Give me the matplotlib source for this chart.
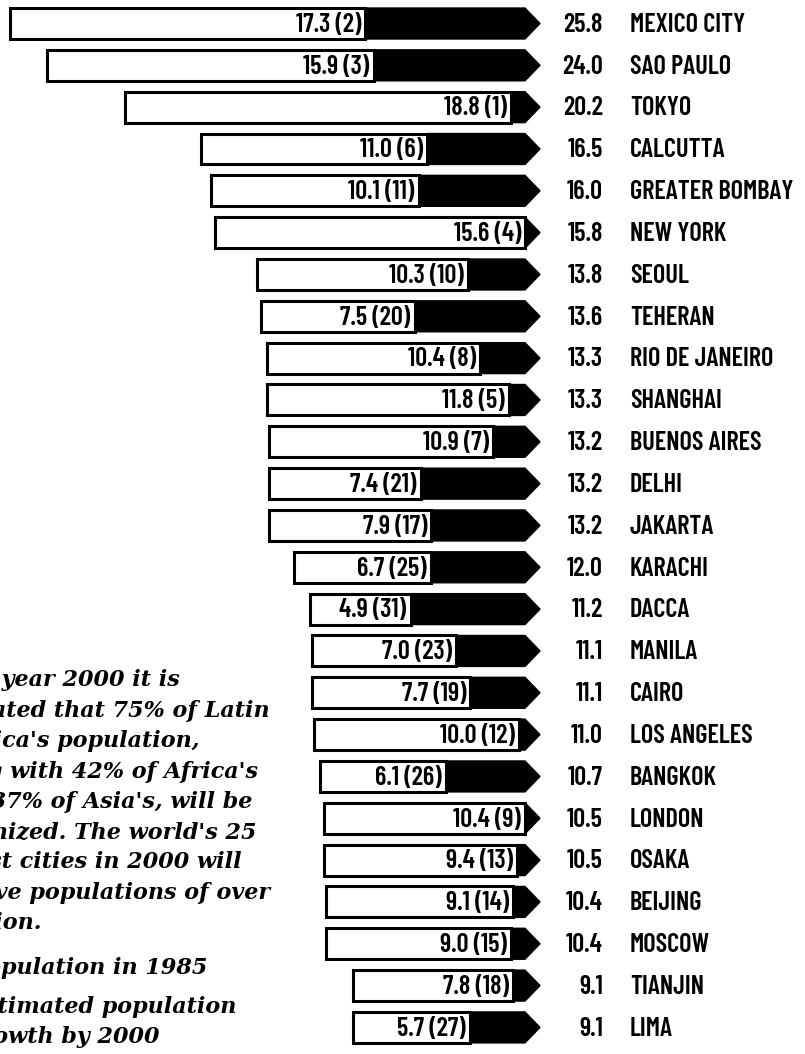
import matplotlib
matplotlib.use("Agg")
import matplotlib.pyplot as plt
import matplotlib.font_manager as fm
from matplotlib.patches import Rectangle, Polygon

cities = ["MEXICO CITY", "SAO PAULO", "TOKYO", "CALCUTTA", "GREATER BOMBAY",
          "NEW YORK", "SEOUL", "TEHERAN", "RIO DE JANEIRO", "SHANGHAI",
          "BUENOS AIRES", "DELHI", "JAKARTA", "KARACHI", "DACCA", "MANILA",
          "CAIRO", "LOS ANGELES", "BANGKOK", "LONDON", "OSAKA", "BEIJING",
          "MOSCOW", "TIANJIN", "LIMA"]
pop_2000 = [25.8, 24.0, 20.2, 16.5, 16.0, 15.8, 13.8, 13.6, 13.3, 13.3, 13.2,
            13.2, 13.2, 12.0, 11.2, 11.1, 11.1, 11.0, 10.7, 10.5, 10.5, 10.4,
            10.4, 9.1, 9.1]
pop_1985 = [17.3, 15.9, 18.8, 11.0, 10.1, 15.6, 10.3, 7.5, 10.4, 11.8, 10.9,
            7.4, 7.9, 6.7, 4.9, 7.0, 7.7, 10.0, 6.1, 10.4, 9.4, 9.1, 9.0,
            7.8, 5.7]
rank_1985 = [2, 3, 1, 6, 11, 4, 10, 20, 8, 5, 7, 21, 17, 25, 31, 23, 19, 12,
             26, 9, 13, 14, 15, 18, 27]

# italic note on the left (cut off by the page edge)
note_lines = ["By the year 2000 it is", "estimated that 75% of Latin",
              "America's population,", "along with 42% of Africa's",
              "and 37% of Asia's, will be", "urbanized. The world's 25",
              "largest cities in 2000 will", "all have populations of over",
              "9 million."]
legend_lines = ["Population in 1985", "Estimated population", "growth by 2000"]

# pick a condensed sans face if one is around
def find_font(name, weights):
    for w in weights:
        for f in fm.fontManager.ttflist:
            if f.name == name and f.style == "normal" and str(f.weight) == w:
                return f.fname
    return None

cond_file = None
for name, weights in [("Barlow Condensed", ["600", "semibold", "500", "medium", "400", "normal"]),
                      ("Archivo Narrow", ["500", "400", "normal"]),
                      ("Asap Condensed", ["500", "400", "normal"]),
                      ("Liberation Sans Narrow", ["400", "normal"])]:
    cond_file = find_font(name, weights)
    if cond_file:
        break

def cfp(size):
    if cond_file:
        return fm.FontProperties(fname=cond_file, size=size)
    return fm.FontProperties(family="DejaVu Sans", size=size * 0.7)

W, H = 805, 1054
fig = plt.figure(figsize=(W / 100, H / 100), dpi=100)
ax = fig.add_axes([0, 0, 1, 1])

px_per_unit = 20.54
zero_px = 540
row_px = 41.83
first_row_px = 23.5
ax.set_xlim(-zero_px / px_per_unit, (W - zero_px) / px_per_unit)
ax.set_ylim(24 + (H - first_row_px - 24 * row_px) / row_px, -first_row_px / row_px)
ax.axis("off")

h = 0.74
tip = 15 / px_per_unit
fs = 19

for i in range(len(cities)):
    left = -pop_2000[i]
    wend = min(left + pop_1985[i], -tip)
    # black growth part with arrow head
    poly = Polygon([(wend, i - h / 2), (-tip, i - h / 2), (0, i), (-tip, i + h / 2),
                    (wend, i + h / 2)], closed=True, facecolor="black",
                   edgecolor="black", lw=1)
    ax.add_patch(poly)
    ax.add_patch(Rectangle((left, i - h / 2), wend - left, h, facecolor="white",
                           edgecolor="black", lw=2.2, zorder=3))
    ax.text(wend - 0.2, i + 0.03, f"{pop_1985[i]:.1f} ({rank_1985[i]})",
            ha="right", va="center", fontproperties=cfp(fs), zorder=4)
    ax.text(3.06, i + 0.03, f"{pop_2000[i]:.1f}", ha="right", va="center",
            fontproperties=cfp(fs))
    ax.text(4.37, i + 0.03, cities[i], ha="left", va="center",
            fontproperties=cfp(fs))

serif = ["DejaVu Serif"]
note_y = [680, 711, 741, 772, 802, 832, 862, 893, 923]
note_r = [180, 270, 200, 258, 252, 257, 242, 270, 42]
for t, y, r in zip(note_lines, note_y, note_r):
    fig.text(r / W, 1 - y / H, t, ha="right", va="center", fontsize=16,
             style="italic", weight="bold", family=serif)

leg_y = [968, 1007, 1037]
leg_r = [208, 237, 160]
for t, y, r in zip(legend_lines, leg_y, leg_r):
    fig.text(r / W, 1 - y / H, t, ha="right", va="center", fontsize=16,
             style="italic", weight="bold", family=serif)

fig.savefig("out.png", dpi=100)
